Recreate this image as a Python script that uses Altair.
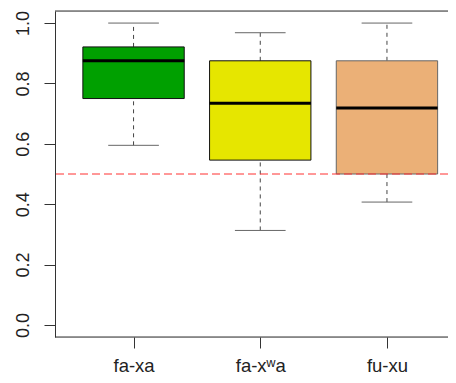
import json
import altair as alt
import pandas as pd

categories = ["fa-xa", "fa-xʷa", "fu-xu"]
whisker_low = [0.595, 0.313, 0.407]
q1 = [0.75, 0.546, 0.50]
median = [0.875, 0.734, 0.719]
q3 = [0.921, 0.875, 0.875]
whisker_high = [1.0, 0.968, 1.0]
fill_colors = ["#00A000", "#E6E600", "#EBB077"]
border_colors = ["#111111", "#111111", "#666666"]
reference_line = [0.5]
y_ticks = [0.0, 0.2, 0.4, 0.6, 0.8, 1.0]

df = pd.DataFrame({
    "cat": categories,
    "pos": list(range(1, len(categories) + 1)),
    "lo": whisker_low,
    "q1": q1,
    "med": median,
    "q3": q3,
    "hi": whisker_high,
    "fill": fill_colors,
    "stroke": border_colors,
})

W, H = 393, 326
STEP = 126.7
X0 = 0.38
X1 = X0 + W / STEP
FONT = "Liberation Sans"

label_expr = json.dumps(categories) + "[datum.value - 1]"

xs = alt.Scale(domain=[X0, X1], nice=False, zero=False)
ys = alt.Scale(domain=[-0.04, 1.04], nice=False, zero=False)

base = alt.Chart(df).transform_calculate(
    bl="datum.pos - 0.4", br="datum.pos + 0.4",
    cl="datum.pos - 0.2", cr="datum.pos + 0.2",
)

xaxis = alt.Axis(values=[1, 2, 3], labelExpr=label_expr, title=None, domain=False,
                 grid=False, tickSize=11, tickColor="#333", labelFontSize=18.5,
                 labelColor="#222", labelFont=FONT, labelBaseline="alphabetic",
                 labelPadding=23)
yaxis = alt.Axis(values=y_ticks, format=".1f", title=None, grid=False,
                 domain=True, domainColor="#333", tickSize=11, tickColor="#333",
                 labelAngle=270, labelAlign="center", labelBaseline="alphabetic",
                 labelFontSize=18, labelColor="#222", labelFont=FONT, labelPadding=16)

whisk_hi = base.mark_rule(color="#444", strokeDash=[4, 4], strokeWidth=1).encode(
    x=alt.X("pos:Q", scale=xs, axis=xaxis),
    y=alt.Y("q3:Q", scale=ys, axis=yaxis),
    y2="hi:Q",
)
whisk_lo = base.mark_rule(color="#444", strokeDash=[4, 4], strokeWidth=1).encode(
    x=alt.X("pos:Q", scale=xs), y=alt.Y("lo:Q", scale=ys), y2="q1:Q",
)
cap_hi = base.mark_rule(color="#666", strokeWidth=1).encode(
    x=alt.X("cl:Q", scale=xs), x2="cr:Q", y=alt.Y("hi:Q", scale=ys),
)
cap_lo = base.mark_rule(color="#666", strokeWidth=1).encode(
    x=alt.X("cl:Q", scale=xs), x2="cr:Q", y=alt.Y("lo:Q", scale=ys),
)
boxes = base.mark_bar(strokeWidth=1).encode(
    x=alt.X("bl:Q", scale=xs), x2="br:Q",
    y=alt.Y("q1:Q", scale=ys), y2="q3:Q",
    fill=alt.Fill("fill:N", scale=None),
    stroke=alt.Stroke("stroke:N", scale=None),
)
meds = base.mark_rule(color="#000", strokeWidth=3).encode(
    x=alt.X("bl:Q", scale=xs), x2="br:Q", y=alt.Y("med:Q", scale=ys),
)
ref = alt.Chart(pd.DataFrame({"v": reference_line})).mark_rule(
    color="#FF3030", strokeDash=[8, 4], strokeWidth=1
).encode(y=alt.Y("v:Q", scale=ys))

frame_top = alt.Chart(pd.DataFrame({"a": [0]})).mark_rule(color="#333", strokeWidth=1).encode(
    y=alt.value(0)
)
frame_bot = alt.Chart(pd.DataFrame({"a": [0]})).mark_rule(color="#333", strokeWidth=1).encode(
    y=alt.value(H)
)

chart = alt.layer(
    whisk_hi, whisk_lo, cap_hi, cap_lo, boxes, meds, ref, frame_top, frame_bot
).properties(
    width=W, height=H,
    autosize=alt.AutoSizeParams(type="none"),
    padding={"left": 47, "top": 3, "right": 0, "bottom": 38},
).configure_view(stroke=None).configure(background="white")

chart.save("out.html", embed_options={"renderer": "svg", "actions": False})
